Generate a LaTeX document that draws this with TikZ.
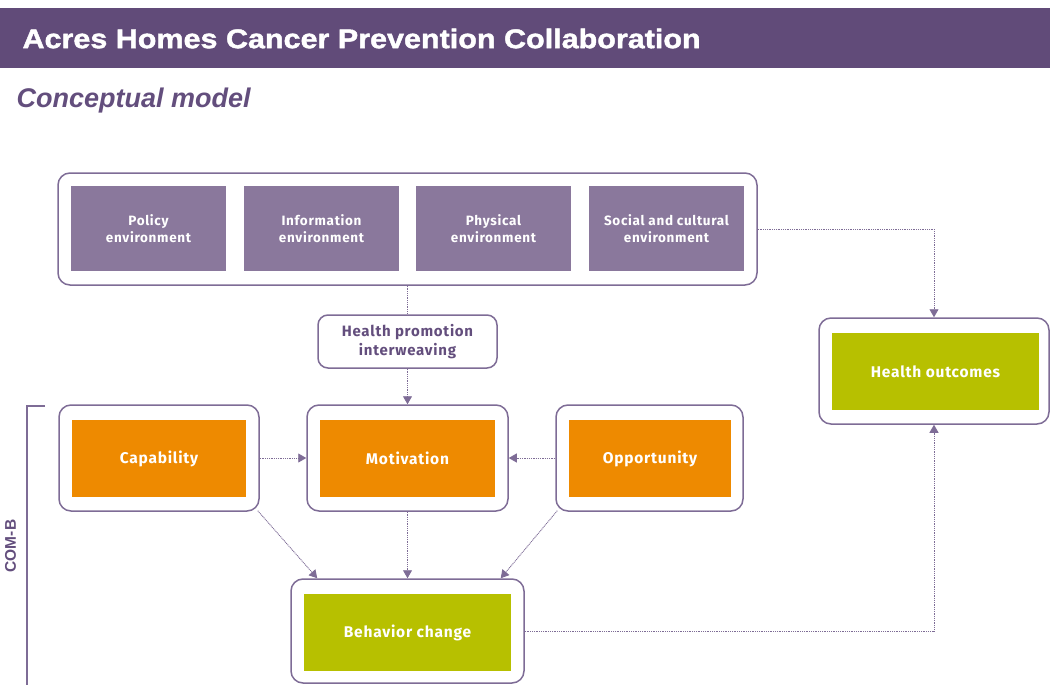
\documentclass[tikz,border=0pt]{standalone}
\usepackage{fontspec}
\usepackage{tikz}
\usetikzlibrary{arrows.meta}
\usetikzlibrary{calc}
\setmainfont{Liberation Sans}
\newfontfamily\headfont[FakeBold=1.6, FakeStretch=1.13]{Liberation Sans Bold}
\newfontfamily\subfont{Liberation Sans Bold Italic}
\newfontfamily\labfont{Liberation Sans Bold}
\newfontfamily\boxfont[LetterSpace=5]{Fira Sans}
\definecolor{headc}{RGB}{97,75,121}
\definecolor{envc}{RGB}{138,120,156}
\definecolor{framec}{RGB}{126,108,150}
\definecolor{purptext}{RGB}{99,78,125}
\definecolor{combc}{RGB}{238,138,0}
\definecolor{outc}{RGB}{183,192,0}
\tikzset{frame/.style = {draw=framec, line width=1.5pt, rounded corners=12pt, fill=white, inner sep=0}}
\tikzset{envbox/.style = {fill=envc, text=white, minimum width=155pt, minimum height=85pt,
                          align=center, font=\boxfont\bfseries\fontsize{13.5}{17}\selectfont}}
\tikzset{combox/.style = {fill=combc, text=white, minimum width=174pt, minimum height=77pt,
                          font=\boxfont\bfseries\fontsize{15.5}{18}\selectfont}}
\tikzset{outbox/.style = {fill=outc, text=white, minimum width=207pt, minimum height=77pt,
                          font=\boxfont\bfseries\fontsize{15.5}{18}\selectfont}}
\tikzset{link/.style = {draw=framec, line width=0.9pt, dash pattern=on 1pt off 0.8pt}}
\tikzset{flow/.style = {link, -{Triangle[length=8pt,width=9pt]}}}

\begin{document}
\begin{tikzpicture}[x=1pt, y=-1pt]
      \useasboundingbox (0,0) rectangle (1050,685);
      % header band
      \fill [headc] (0,8) rectangle (1050,68);
      \node (title) [anchor=west, text=white, font=\headfont\fontsize{27}{30}\selectfont] at (19,38.5) {Acres Homes Cancer Prevention Collaboration};
      \node (subtitle) [anchor=west, text=purptext, font=\subfont\fontsize{27}{30}\selectfont] at (13,101) {Conceptual model};
      % environments
      \node (envf) [frame, minimum width=699pt, minimum height=112pt] at (407.5,229) {};
      \node (policy) [envbox] at (148.5,228.5) {Policy\\environment};
      \node (info) [envbox] at (321.5,228.5) {Information\\environment};
      \node (phys) [envbox] at (493.5,228.5) {Physical\\environment};
      \node (social) [envbox] at (666.5,228.5) {Social and cultural\\environment};
      \node (hp) [frame, rounded corners=10pt, minimum width=179pt, minimum height=53pt, align=center, text=purptext,
                  font=\boxfont\bfseries\fontsize{15}{19}\selectfont] at (407.5,341.5) {Health promotion\\interweaving};
      % COM-B
      \node (capf) [frame, minimum width=200pt, minimum height=106pt] at (159,458) {};
      \node (cap) [combox] at (159,458.5) {Capability};
      \node (motf) [frame, minimum width=201pt, minimum height=106pt] at (407.5,458) {};
      \node (mot) [combox, minimum width=175pt] at (407.5,458.5) {Motivation};
      \node (oppf) [frame, minimum width=187pt, minimum height=106pt] at (649.5,458) {};
      \node (opp) [combox, minimum width=162pt] at (650,458.5) {Opportunity};
      \node (behf) [frame, minimum width=233pt, minimum height=104pt] at (407.5,631) {};
      \node (beh) [outbox] at (407.5,632.5) {Behavior change};
      \node (hof) [frame, minimum width=230pt, minimum height=106pt] at (934,371) {};
      \node (ho) [outbox] at (935.5,371.5) {Health outcomes};
      \draw [framec, line width=1.5pt] (45,406) -- (27,406) -- (27,690);
      \node (comb) [rotate=90, text=purptext, font=\labfont\fontsize{15.5}{18}\selectfont] at (10.5,546) {COM-B};
      % connectors
      \draw [link] (envf.south) -- (hp.north);
      \draw [flow] (hp.south) -- (motf.north);
      \draw [flow] (capf.east) -- (motf.west);
      \draw [flow] (oppf.west) -- (motf.east);
      \draw [flow] (motf.south) -- (behf.north);
      \draw [flow] ($(capf.south east)+(-2,-1)$) -- ($(behf.north west)+(27,0)$);
      \draw [flow] ($(oppf.south west)+(2,-1)$) -- ($(behf.north east)+(-24,0)$);
      \draw [flow] (envf.east) -| (hof.north);
      \draw [flow] (behf.east) -| (hof.south);
\end{tikzpicture}
\end{document}
